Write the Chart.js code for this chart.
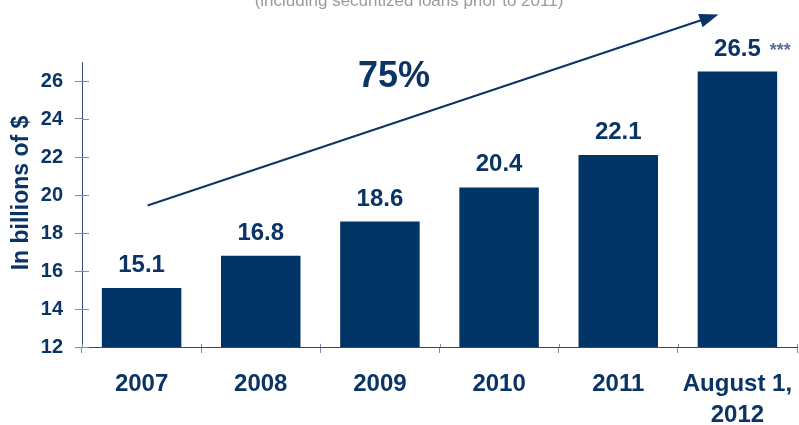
<!DOCTYPE html>
<html>
<head>
<meta charset="utf-8">
<script src="https://cdn.jsdelivr.net/npm/chart.js@4.4.1/dist/chart.umd.min.js"></script>
<style>
    html, body { margin: 0; padding: 0; background: #fff; }
    #wrap { width: 799px; height: 425px; }
</style>
</head>
<body>
<div id="wrap"><canvas id="grafico"></canvas></div>
<script>
// Dados do gráfico
const anos = ['2007', '2008', '2009', '2010', '2011', ['August 1,', '2012']];
const valores = [15.1, 16.8, 18.6, 20.4, 22.1, 26.5];
const eixoY = { min: 12, max: 27, passo: 2 };
const subtitulo = '(including securitized loans prior to 2011)';
const tituloY = 'In billions of $';
const crescimento = '75%';
const notaUltimo = '***';

const azul = '#003366';
const azulTexto = '#0b3466';

// Rótulos de valor acima das barras, seta e textos extras
const extras = {
    id: 'extras',
    afterDraw(chart) {
        const ctx = chart.ctx;
        const x = chart.scales.x;
        const y = chart.scales.y;
        const area = chart.chartArea;

        ctx.save();

        // subtítulo cortado no topo
        ctx.fillStyle = '#9a9a9a';
        ctx.font = '17px "Liberation Sans", Arial, sans-serif';
        ctx.textAlign = 'center';
        ctx.textBaseline = 'alphabetic';
        ctx.fillText(subtitulo, 409, 6);

        // meias marcas dentro da área
        ctx.strokeStyle = '#7d8daa';
        ctx.lineWidth = 1;
        y.ticks.forEach(t => {
            const py = Math.round(y.getPixelForValue(t.value)) + 0.5;
            ctx.beginPath();
            ctx.moveTo(area.left, py);
            ctx.lineTo(area.left + 7, py);
            ctx.stroke();
        });
        for (let i = 0; i <= anos.length; i++) {
            const px = Math.round(x.getPixelForValue(i - 0.5)) + 0.5;
            ctx.beginPath();
            ctx.moveTo(px, area.bottom - 3);
            ctx.lineTo(px, area.bottom);
            ctx.stroke();
        }

        // valores acima das barras
        const meta = chart.getDatasetMeta(0);
        ctx.fillStyle = azulTexto;
        ctx.font = 'bold 24px "Liberation Sans", Arial, sans-serif';
        ctx.textAlign = 'center';
        ctx.textBaseline = 'alphabetic';
        meta.data.forEach((bar, i) => {
            ctx.fillText(valores[i].toFixed(1), bar.x, bar.y - 16);
        });
        const ultimo = meta.data[meta.data.length - 1];
        const larg = ctx.measureText(valores[valores.length - 1].toFixed(1)).width;
        ctx.fillStyle = '#5b7199';
        ctx.font = 'bold 18px "Liberation Sans", Arial, sans-serif';
        ctx.textAlign = 'left';
        ctx.fillText(notaUltimo, ultimo.x + larg / 2 + 9, ultimo.y - 16);

        // seta de crescimento
        const x0 = x.getPixelForValue(0) + 6;
        const y0 = y.getPixelForValue(19.45);
        const x1 = x.getPixelForValue(5) - 19;
        const y1 = y.getPixelForValue(29.5);
        const ang = Math.atan2(y1 - y0, x1 - x0);
        const ponta = 19;
        ctx.strokeStyle = azulTexto;
        ctx.lineWidth = 2;
        ctx.beginPath();
        ctx.moveTo(x0, y0);
        ctx.lineTo(x1 - Math.cos(ang) * ponta * 0.8, y1 - Math.sin(ang) * ponta * 0.8);
        ctx.stroke();
        ctx.fillStyle = azulTexto;
        ctx.beginPath();
        ctx.moveTo(x1, y1);
        ctx.lineTo(x1 - Math.cos(ang) * ponta + Math.sin(ang) * 7, y1 - Math.sin(ang) * ponta - Math.cos(ang) * 7);
        ctx.lineTo(x1 - Math.cos(ang) * ponta - Math.sin(ang) * 7, y1 - Math.sin(ang) * ponta + Math.cos(ang) * 7);
        ctx.closePath();
        ctx.fill();

        // 75%
        ctx.fillStyle = azulTexto;
        ctx.font = 'bold 36px "Liberation Sans", Arial, sans-serif';
        ctx.textAlign = 'center';
        ctx.fillText(crescimento, 394, 87);

        // título do eixo Y
        ctx.translate(22, 193);
        ctx.rotate(-Math.PI / 2);
        ctx.font = 'bold 23px "Liberation Sans", Arial, sans-serif';
        ctx.textBaseline = 'middle';
        ctx.fillText(tituloY, 0, 0);

        ctx.restore();
    }
};

new Chart(document.getElementById('grafico'), {
    type: 'bar',
    data: {
        labels: anos,
        datasets: [{
            data: valores,
            backgroundColor: azul,
            borderWidth: 0,
            barPercentage: 0.667,
            categoryPercentage: 1
        }]
    },
    options: {
        responsive: true,
        maintainAspectRatio: false,
        devicePixelRatio: 1,
        animation: false,
        layout: { padding: { top: 62, right: 2, left: 0, bottom: 0 } },
        plugins: {
            legend: { display: false },
            tooltip: { enabled: false }
        },
        scales: {
            x: {
                afterFit(scale) {
                    scale.height = 78;
                    scale.paddingLeft = 0;
                    scale.paddingRight = 0;
                },
                border: { display: true, color: '#2e4a74', width: 1 },
                grid: { drawOnChartArea: false, tickLength: 6, color: '#7d8daa' },
                ticks: {
                    color: azulTexto,
                    font: { family: '"Liberation Sans", Arial, sans-serif', size: 24, weight: 'bold', lineHeight: 1.3 },
                    padding: 16,
                    maxRotation: 0,
                    autoSkip: false
                }
            },
            y: {
                min: eixoY.min,
                max: eixoY.max,
                afterFit(scale) { scale.width = 82; },
                border: { display: true, color: '#2e4a74', width: 1 },
                grid: { drawOnChartArea: false, tickLength: 7, color: '#7d8daa' },
                ticks: {
                    stepSize: eixoY.passo,
                    includeBounds: false,
                    color: azulTexto,
                    font: { family: '"Liberation Sans", Arial, sans-serif', size: 20, weight: 'bold' },
                    padding: 12
                }
            }
        }
    },
    plugins: [extras]
});
</script>
</body>
</html>
